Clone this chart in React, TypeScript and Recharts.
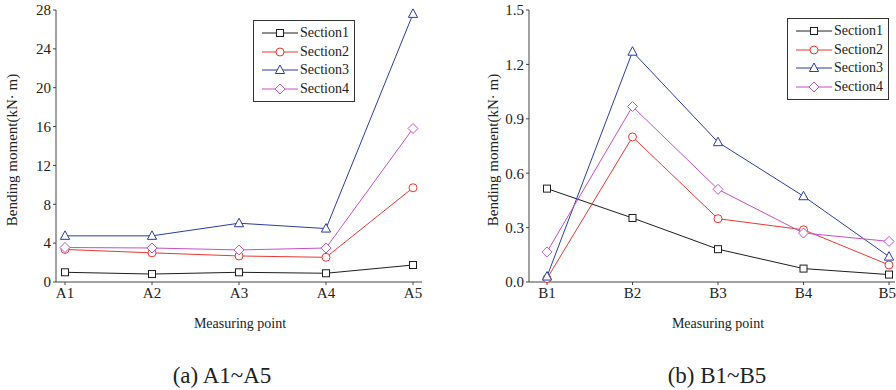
import React from "react"
import { LineChart, Line, XAxis, YAxis, Legend } from "recharts"

const FONT = '"Liberation Serif", "Times New Roman", serif'

// (a) measuring points A1~A5
const aPoints = ["A1", "A2", "A3", "A4", "A5"]
const aSection1 = [1.0, 0.82, 1.0, 0.9, 1.75]
const aSection2 = [3.35, 3.0, 2.68, 2.54, 9.7]
const aSection3 = [4.75, 4.75, 6.05, 5.5, 27.6]
const aSection4 = [3.55, 3.5, 3.3, 3.5, 15.8]
const aTicks = [0, 4, 8, 12, 16, 20, 24, 28]

// (b) measuring points B1~B5
const bPoints = ["B1", "B2", "B3", "B4", "B5"]
const bSection1 = [0.515, 0.353, 0.181, 0.074, 0.041]
const bSection2 = [0.019, 0.8, 0.349, 0.288, 0.094]
const bSection3 = [0.03, 1.27, 0.771, 0.473, 0.14]
const bSection4 = [0.166, 0.968, 0.511, 0.27, 0.224]
const bTicks = [0, 0.3, 0.6, 0.9, 1.2, 1.5]

const series = [
  { key: "Section1", color: "#1e1e1e", shape: "square" },
  { key: "Section2", color: "#e8392f", shape: "circle" },
  { key: "Section3", color: "#2b3d9e", shape: "triangle" },
  { key: "Section4", color: "#c650c6", shape: "diamond" },
]

function buildRows(points: string[], s: number[][]) {
  return points.map((p, i) => ({
    name: p,
    Section1: s[0][i],
    Section2: s[1][i],
    Section3: s[2][i],
    Section4: s[3][i],
  }))
}

const aData = buildRows(aPoints, [aSection1, aSection2, aSection3, aSection4])
const bData = buildRows(bPoints, [bSection1, bSection2, bSection3, bSection4])

function Marker({ shape, cx, cy, color }: any) {
  const common = { fill: "#fff", stroke: color, strokeWidth: 1 }
  if (shape === "square") return <rect x={cx - 3.5} y={cy - 3.5} width={7} height={7} {...common} />
  if (shape === "circle") return <circle cx={cx} cy={cy} r={4} {...common} />
  if (shape === "triangle")
    return <polygon points={`${cx},${cy - 5} ${cx - 4.6},${cy + 3.5} ${cx + 4.6},${cy + 3.5}`} {...common} />
  return <polygon points={`${cx},${cy - 5} ${cx + 5},${cy} ${cx},${cy + 5} ${cx - 5},${cy}`} {...common} />
}

function LegendBox() {
  return (
    <div
      style={{
        border: "1px solid #333",
        background: "#fff",
        width: 92,
        padding: "3px 0 3px 8px",
        fontFamily: FONT,
        fontSize: 14,
        color: "#222",
        textAlign: "left",
      }}
    >
      {series.map((s) => (
        <div key={s.key} style={{ display: "flex", alignItems: "center", height: 18.5 }}>
          <svg width={36} height={12} style={{ marginRight: 2 }}>
            <line x1={0} y1={6} x2={36} y2={6} stroke={s.color} strokeWidth={1} />
            <Marker shape={s.shape} cx={18} cy={6} color={s.color} />
          </svg>
          <span>{s.key}</span>
        </div>
      ))}
    </div>
  )
}

interface PanelProps {
  data: any[]
  width: number
  yWidth: number
  ticks: number[]
  domain: [number, number]
  fmt: (v: number) => string
  padL: number
  padR: number
  marginRight: number
  labelOffset: number
  legendLeft: number
  legendTop: number
  titleDx: number
}

function Panel(p: PanelProps) {
  const axisStroke = "#444"
  const tickStyle = { fontFamily: FONT, fontSize: 15, fill: "#222" }
  return (
    <LineChart
      width={p.width}
      height={340}
      data={p.data}
      margin={{ top: 10, right: p.marginRight, left: 0, bottom: 0 }}
    >
      <XAxis
        dataKey="name"
        height={58}
        padding={{ left: p.padL, right: p.padR }}
        stroke={axisStroke}
        tickSize={3}
        tick={tickStyle}
        tickLine={{ stroke: axisStroke }}
        label={{
          value: "Measuring point",
          position: "insideBottom",
          offset: 12,
          dx: p.titleDx,
          style: { fontFamily: FONT, fontSize: 14, fill: "#222" },
        }}
      />
      <XAxis xAxisId="top" orientation="top" dataKey="name" height={0} tick={false} tickLine={false} stroke={axisStroke} />
      <YAxis
        width={p.yWidth}
        domain={p.domain}
        ticks={p.ticks}
        tickFormatter={p.fmt}
        interval={0}
        stroke={axisStroke}
        tickSize={3}
        tick={tickStyle}
        tickLine={{ stroke: axisStroke }}
        label={{
          value: "Bending moment(kN· m)",
          angle: -90,
          position: "insideLeft",
          offset: p.labelOffset,
          dy: 4,
          style: { fontFamily: FONT, fontSize: 15, fill: "#222", textAnchor: "middle" },
        }}
      />
      <YAxis yAxisId="r" orientation="right" width={0} domain={p.domain} tick={false} tickLine={false} stroke={axisStroke} />
      <Legend
        layout="vertical"
        align="center"
        verticalAlign="middle"
        content={() => <LegendBox />}
        wrapperStyle={{ top: p.legendTop, left: p.legendLeft, width: "auto", height: "auto" }}
      />
      {series.map((s) => (
        <Line
          key={s.key}
          dataKey={s.key}
          name={s.key}
          stroke={s.color}
          strokeWidth={1}
          isAnimationActive={false}
          dot={(d: any) => <Marker key={`${s.key}-${d.index}`} shape={s.shape} cx={d.cx} cy={d.cy} color={s.color} />}
          activeDot={false}
        />
      ))}
    </LineChart>
  )
}

const captionStyle: React.CSSProperties = {
  position: "absolute",
  top: 362,
  width: 200,
  textAlign: "center",
  fontFamily: FONT,
  fontSize: 23,
  color: "#222",
  lineHeight: "28px",
}

export default function App() {
  return (
    <div style={{ position: "absolute", left: 0, top: 0, width: 896, height: 390, background: "#fff", overflow: "hidden" }}>
      <div style={{ position: "absolute", left: 0, top: 0 }}>
        <Panel
          data={aData}
          width={440}
          yWidth={56}
          ticks={aTicks}
          domain={[0, 28]}
          fmt={(v) => String(v)}
          padL={9}
          padR={9}
          marginRight={18}
          labelOffset={12}
          legendLeft={253}
          legendTop={20}
          titleDx={1}
        />
      </div>
      <div style={{ position: "absolute", left: 450, top: 0 }}>
        <Panel
          data={bData}
          width={446}
          yWidth={79}
          ticks={bTicks}
          domain={[0, 1.5]}
          fmt={(v) => v.toFixed(1)}
          padL={18}
          padR={6}
          marginRight={1}
          labelOffset={43}
          legendLeft={337}
          legendTop={18}
          titleDx={6}
        />
      </div>
      <div style={{ ...captionStyle, left: 122 }}>(a) A1~A5</div>
      <div style={{ ...captionStyle, left: 617 }}>(b) B1~B5</div>
    </div>
  )
}
